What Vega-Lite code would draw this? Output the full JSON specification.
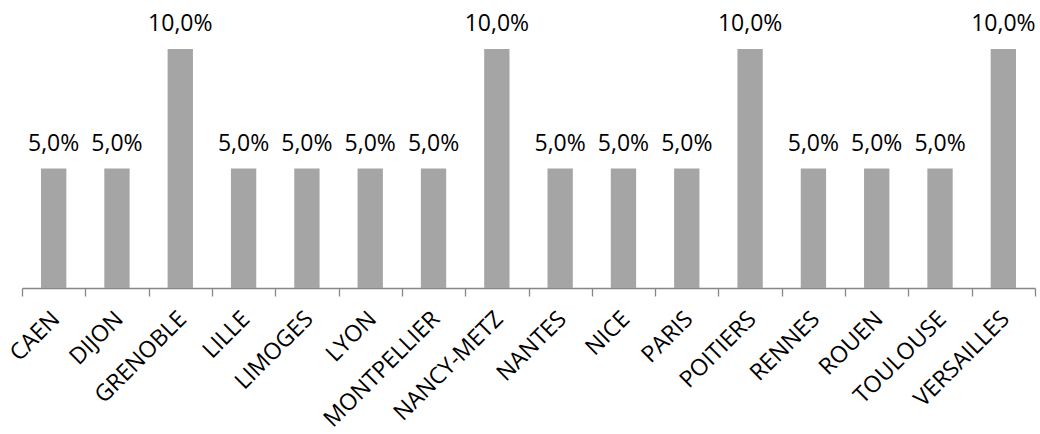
{
  "$schema": "https://vega.github.io/schema/vega-lite/v6.json",
  "width": 1013,
  "height": 239,
  "autosize": {"type": "none"},
  "padding": {"left": 22, "top": 49, "right": 5, "bottom": 146},
  "background": "white",
  "config": {
    "view": {"stroke": null},
    "locale": {
      "number": {"decimal": ",", "thousands": " ", "grouping": [3], "currency": ["", " €"]}
    }
  },
  "data": {
    "values": [
      {"academie": "CAEN", "part": 0.05},
      {"academie": "DIJON", "part": 0.05},
      {"academie": "GRENOBLE", "part": 0.10},
      {"academie": "LILLE", "part": 0.05},
      {"academie": "LIMOGES", "part": 0.05},
      {"academie": "LYON", "part": 0.05},
      {"academie": "MONTPELLIER", "part": 0.05},
      {"academie": "NANCY-METZ", "part": 0.10},
      {"academie": "NANTES", "part": 0.05},
      {"academie": "NICE", "part": 0.05},
      {"academie": "PARIS", "part": 0.05},
      {"academie": "POITIERS", "part": 0.10},
      {"academie": "RENNES", "part": 0.05},
      {"academie": "ROUEN", "part": 0.05},
      {"academie": "TOULOUSE", "part": 0.05},
      {"academie": "VERSAILLES", "part": 0.10}
    ]
  },
  "encoding": {
    "x": {
      "field": "academie",
      "type": "nominal",
      "sort": null,
      "title": null,
      "scale": {"paddingInner": 0, "paddingOuter": 0},
      "axis": {
        "tickBand": "extent",
        "domainColor": "#868686",
        "domainWidth": 1.3,
        "tickColor": "#868686",
        "tickWidth": 1.3,
        "tickSize": 8,
        "labelAngle": -45,
        "labelAlign": "right",
        "labelBaseline": "middle",
        "labelOffset": 2,
        "labelPadding": 19,
        "labelFont": "Open Sans",
        "labelFontSize": 23,
        "labelColor": "#000000",
        "labelOverlap": false,
        "labelBound": false
      }
    },
    "y": {
      "field": "part",
      "type": "quantitative",
      "scale": {"domain": [0, 0.1], "nice": false},
      "axis": null
    }
  },
  "layer": [
    {"mark": {"type": "bar", "color": "#a5a5a5", "width": {"band": 0.4}}},
    {
      "mark": {
        "type": "text",
        "baseline": "alphabetic",
        "dy": -18,
        "font": "Open Sans",
        "fontSize": 23,
        "color": "#000000"
      },
      "encoding": {
        "text": {"field": "part", "type": "quantitative", "format": ".1%"}
      }
    }
  ]
}
